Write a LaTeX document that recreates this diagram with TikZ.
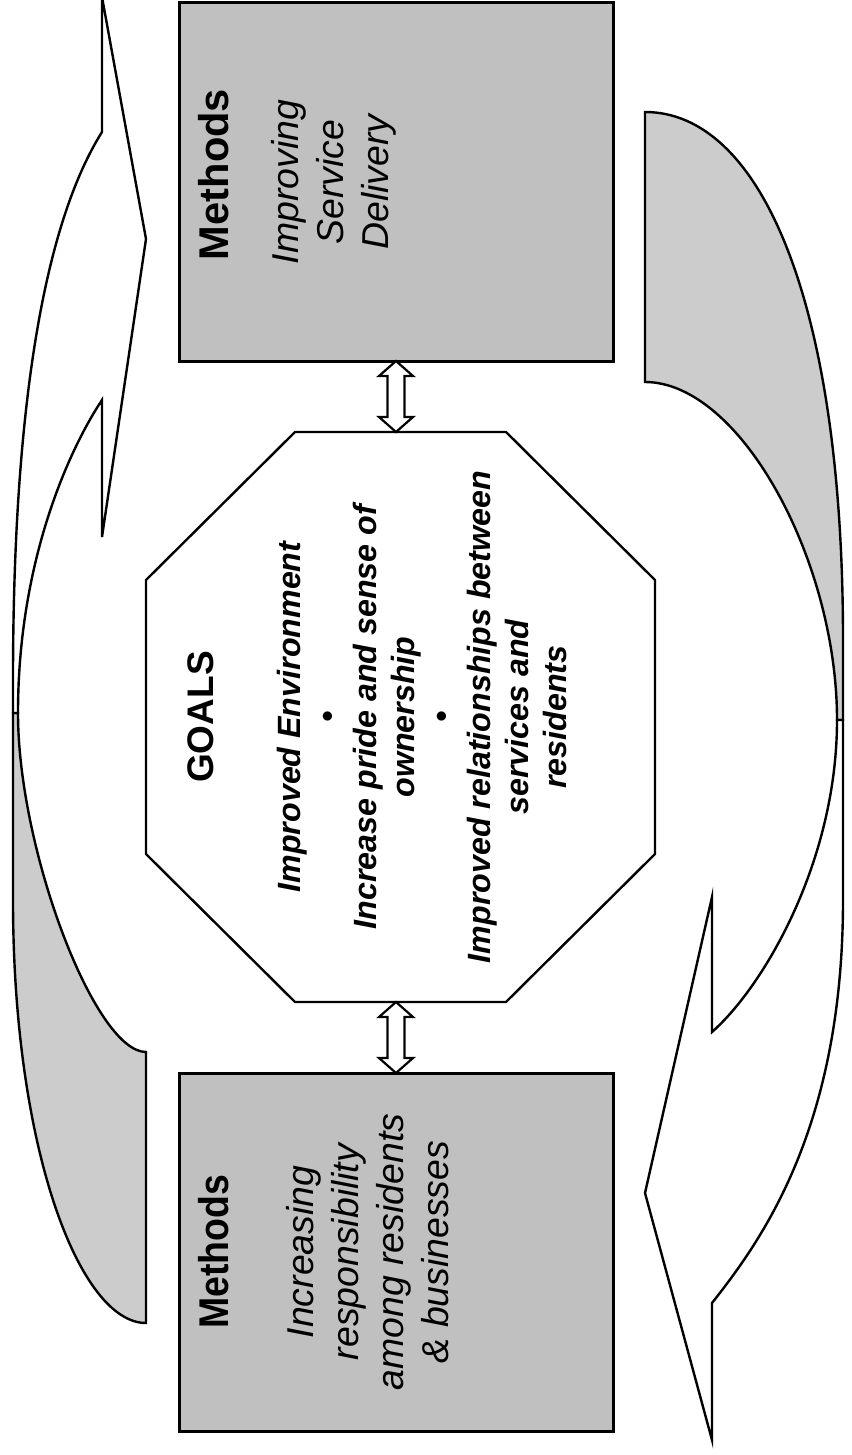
\documentclass[tikz,border=0pt]{standalone}
\usepackage{fontspec}
\setmainfont{Liberation Sans}
\usetikzlibrary{positioning,calc}
\definecolor{boxgray}{RGB}{192,192,192}
\definecolor{bandgray}{RGB}{204,204,204}
\newcommand{\methhead}[1]{{\fontsize{20.8}{25}\selectfont\bfseries\upshape #1}}
\newcommand{\goalhead}[1]{{\fontsize{18.5}{22}\selectfont\bfseries\upshape #1}}

\begin{document}
\begin{tikzpicture}[
  x=0.5pt,y=-0.5pt,line join=miter,
  meth/.style={draw,line width=1.5pt,fill=boxgray,minimum width=217pt,minimum height=179pt,inner sep=0pt,outer sep=0pt},
  goal/.style={minimum width=254.5pt,minimum height=285pt,inner sep=0pt,outer sep=0pt},
  octo/.style={draw,line width=1.2pt,fill=white},
  mtxt/.style={rotate=90,anchor=north,align=center,inner sep=0pt,font=\fontsize{18.7}{22.5}\selectfont\itshape},
  gtxt/.style={rotate=90,anchor=north,align=center,inner sep=0pt,font=\fontsize{16.1}{19}\selectfont\bfseries\itshape},
  back/.style={draw,line width=1.2pt,fill=bandgray},
  band/.style={draw,line width=1.2pt,fill=white},
  dbl/.style={draw,line width=1.1pt,fill=white,
    to path={-- ($(\tikztostart)+(17,15)$) -- ($(\tikztostart)+(8.5,15)$)
      -- ($(\tikztotarget)+(8.5,-15)$) -- ($(\tikztotarget)+(17,-15)$) -- (\tikztotarget)
      -- ($(\tikztotarget)+(-17,-15)$) -- ($(\tikztotarget)+(-8.5,-15)$)
      -- ($(\tikztostart)+(-8.5,15)$) -- ($(\tikztostart)+(-17,15)$) -- cycle}},
]
\useasboundingbox (0,0) rectangle (851,1455);

% curved arrow, left side (back part first)
\draw[back] (146,1323) -- (146,1052) .. controls (95,1052) and (18,850) .. (18,713)
  -- (13,713) -- (13,900) .. controls (13,1150) and (80,1323) .. (146,1323) -- cycle;
\draw[band] (102,132) -- (102,-3) -- (146,239) -- (102,537) -- (102,400)
  .. controls (70,448) and (18,560) .. (18,713) -- (13,713) -- (13,680)
  .. controls (13,390) and (48,218) .. (102,132) -- cycle;

% curved arrow, right side
\draw[back] (645,382) -- (645,112) .. controls (760,112) and (843,300) .. (843,640)
  -- (843,720) -- (837,720) .. controls (837,560) and (740,382) .. (645,382) -- cycle;
\draw[band] (837,720) .. controls (837,860) and (765,985) .. (712,1032)
  -- (712,897) -- (645,1193) -- (712,1440) -- (712,1303)
  .. controls (760,1242) and (843,1130) .. (843,900) -- (843,720) -- cycle;

% goals octagon
\node[goal] (goals) at (400.5,717) {};
\draw[octo] ([xshift=74.5pt]goals.north west) -- ([xshift=-74.5pt]goals.north east)
  -- ([yshift=-74pt]goals.north east) -- ([yshift=74pt]goals.south east)
  -- ([xshift=-74.5pt]goals.south east) -- ([xshift=74.5pt]goals.south west)
  -- ([yshift=74pt]goals.south west) -- ([yshift=-74pt]goals.north west) -- cycle;
\node[gtxt] (gtext) at ([xshift=20.5pt]goals.west) {\goalhead{GOALS}\\[24.5pt]
  Improved Environment\\\textbullet\\Increase pride and sense of\\ownership\\
  \textbullet\\Improved relationships between\\services and\\residents};

% methods boxes
\node[meth,above=35.5pt of goals,xshift=-2.25pt] (svc) {};
\node[meth,below=35.5pt of goals,xshift=-2.25pt] (resp) {};
\node[mtxt] (svctxt) at ([xshift=9.5pt]svc.west) {\methhead{\kern7.5pt Methods}\\[12.5pt]Improving\\Service\\Delivery};
\node[mtxt] (resptxt) at ([xshift=9.5pt]resp.west) {\methhead{\scalebox{.9}[1]{Methods}}\\[20pt]Increasing\\responsibility\\among residents\\\& businesses};

% two-way links
\coordinate (gtop) at (goals.north -| svc.south);
\coordinate (gbot) at (goals.south -| resp.north);
\draw[dbl] (svc.south) to (gtop);
\draw[dbl] (gbot) to (resp.north);
\end{tikzpicture}
\end{document}
